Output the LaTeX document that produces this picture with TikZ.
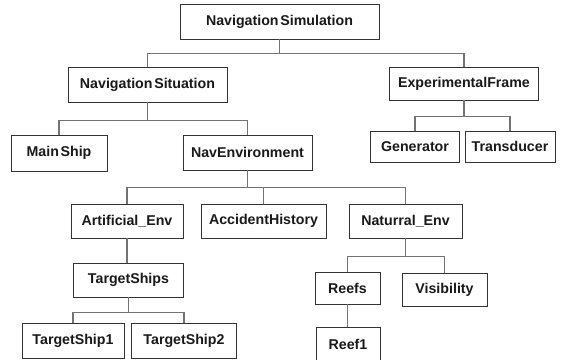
\documentclass[tikz,border=0pt]{standalone}
\usepackage{fontspec}
\setmainfont{Liberation Sans}
\begin{document}
\begin{tikzpicture}[x=1pt,y=1pt,
  box/.style={draw=black!80, line width=0.8pt, fill=white, inner sep=0pt,
    font=\fontsize{14.2}{17}\selectfont\bfseries, text=black!90},
  conn/.style={draw=black!55, line width=1.1pt}]
\useasboundingbox (0,0) rectangle (562,-359);
\newcommand{\bx}[5]{\node[box, minimum width=#4, minimum height=#5] (#1) at #2 {#3};}
\bx{sim}{(279.5,-21.5)}{Navigation\hspace{0.12em}Simulation}{199}{35}
\bx{sit}{(147.5,-84.5)}{Navigation\hspace{0.12em}Situation}{159}{35}
\bx{exp}{(464,-83.5)}{ExperimentalFrame}{149}{33}
\bx{main}{(59,-153)}{Main\hspace{0.12em}Ship}{96}{36}
\bx{nav}{(247.5,-152.5)}{NavEnvironment}{129}{35}
\bx{gen}{(415,-146.5)}{Generator}{89}{31}
\bx{trans}{(510,-146.5)}{Transducer}{90}{31}
\bx{art}{(127,-221)}{Artificial\_Env}{112}{34}
\bx{acc}{(263.5,-221)}{AccidentHistory}{125}{34}
\bx{nat}{(405.5,-221)}{Naturral\_Env}{113}{34}
\bx{ts}{(128.5,-280)}{TargetShips}{110}{34}
\bx{reefs}{(347.5,-288)}{Reefs}{65}{32}
\bx{vis}{(444.5,-289.5)}{Visibility}{85}{33}
\bx{ts1}{(73,-340.5)}{TargetShip1}{102}{35}
\bx{ts2}{(184,-340.5)}{TargetShip2}{105}{35}
\bx{reef1}{(348,-344.5)}{Reef1}{64}{35}
% connectors
\draw[conn] (sim.south) -- ++(0,-14) coordinate (b1);
\draw[conn] (b1) -| (sit.north);
\draw[conn] (b1) -| (exp.north);
\draw[conn] (sit.south) -- ++(0,-18) coordinate (b2);
\draw[conn] (b2) -| (main.north);
\draw[conn] (b2) -| (nav.north);
\draw[conn] (exp.south) -- ++(0,-16) coordinate (b3);
\draw[conn] (b3) -| (gen.north);
\draw[conn] (b3) -| (trans.north);
\draw[conn] (nav.south) -- ++(0,-17) coordinate (b4);
\draw[conn] (b4) -| (art.north);
\draw[conn] (b4) -| (acc.north);
\draw[conn] (b4) -| (nat.north);
\draw[conn] (art.south) -- (art.south |- ts.north);
\draw[conn] (ts.south) -- ++(0,-15) coordinate (b5);
\draw[conn] (b5) -| (ts1.north);
\draw[conn] (b5) -| (ts2.north);
\draw[conn] (nat.south) -- ++(0,-18) coordinate (b6);
\draw[conn] (b6) -| (reefs.north);
\draw[conn] (b6) -| (vis.north);
\draw[conn] (reefs.south) -- (reefs.south |- reef1.north);
\end{tikzpicture}
\end{document}
